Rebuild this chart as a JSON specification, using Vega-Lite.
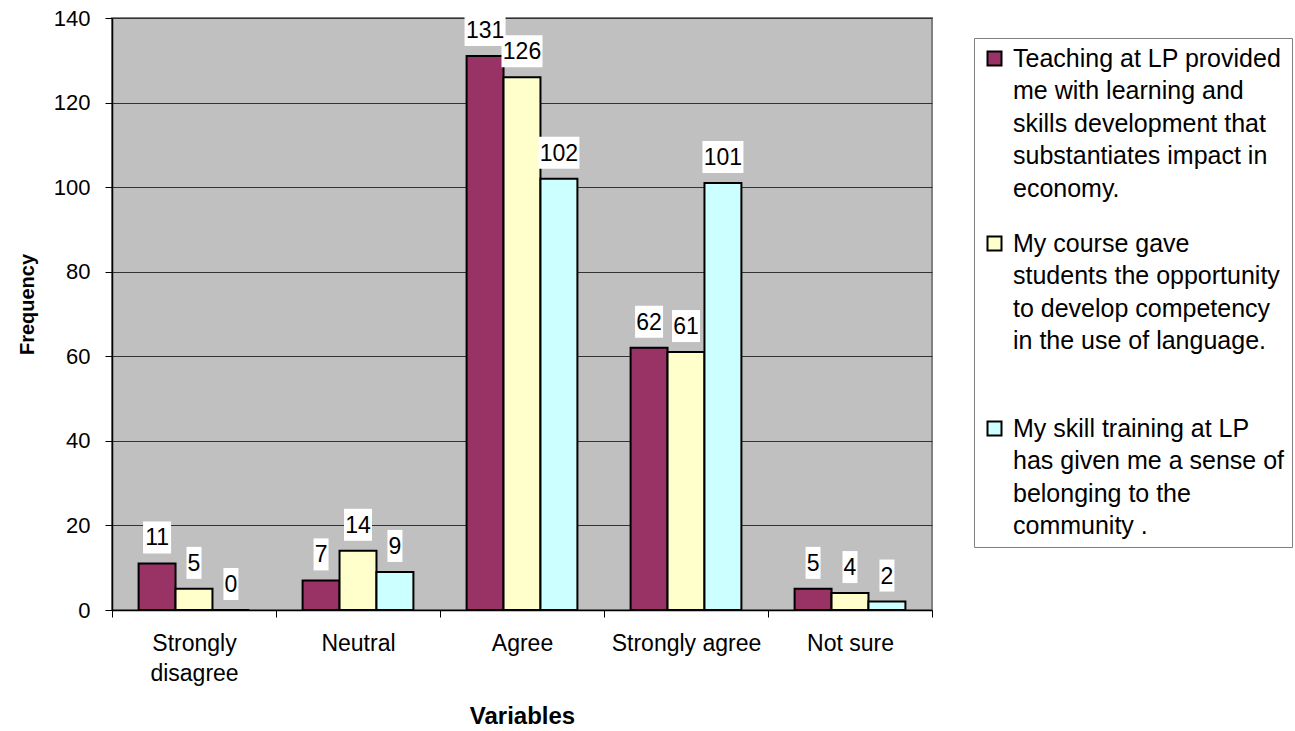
{
  "$schema": "https://vega.github.io/schema/vega-lite/v6.json",
  "width": 820,
  "height": 592,
  "autosize": {"type": "none"},
  "padding": {"left": 112, "top": 18, "right": 363, "bottom": 121},
  "background": "white",
  "config": {
    "font": "Liberation Sans",
    "view": {"fill": "#C0C0C0", "stroke": "#808080", "strokeWidth": 2},
    "style": {"guide-label": {"lineHeight": 32.5}}
  },
  "data": {
    "values": [
      {"response": "Strongly disagree", "statement": "Teaching at LP provided me with learning and skills development that substantiates impact in economy.", "frequency": 11},
      {"response": "Strongly disagree", "statement": "My course gave students the opportunity to develop competency in the use of language.", "frequency": 5},
      {"response": "Strongly disagree", "statement": "My skill training at LP has given me a sense of belonging to the community .", "frequency": 0},
      {"response": "Neutral", "statement": "Teaching at LP provided me with learning and skills development that substantiates impact in economy.", "frequency": 7},
      {"response": "Neutral", "statement": "My course gave students the opportunity to develop competency in the use of language.", "frequency": 14},
      {"response": "Neutral", "statement": "My skill training at LP has given me a sense of belonging to the community .", "frequency": 9},
      {"response": "Agree", "statement": "Teaching at LP provided me with learning and skills development that substantiates impact in economy.", "frequency": 131},
      {"response": "Agree", "statement": "My course gave students the opportunity to develop competency in the use of language.", "frequency": 126},
      {"response": "Agree", "statement": "My skill training at LP has given me a sense of belonging to the community .", "frequency": 102},
      {"response": "Strongly agree", "statement": "Teaching at LP provided me with learning and skills development that substantiates impact in economy.", "frequency": 62},
      {"response": "Strongly agree", "statement": "My course gave students the opportunity to develop competency in the use of language.", "frequency": 61},
      {"response": "Strongly agree", "statement": "My skill training at LP has given me a sense of belonging to the community .", "frequency": 101},
      {"response": "Not sure", "statement": "Teaching at LP provided me with learning and skills development that substantiates impact in economy.", "frequency": 5},
      {"response": "Not sure", "statement": "My course gave students the opportunity to develop competency in the use of language.", "frequency": 4},
      {"response": "Not sure", "statement": "My skill training at LP has given me a sense of belonging to the community .", "frequency": 2}
    ]
  },
  "transform": [
    {"calculate": "length(toString(datum.frequency))", "as": "digits"}
  ],
  "encoding": {
    "x": {
      "field": "response",
      "type": "nominal",
      "sort": ["Strongly disagree", "Neutral", "Agree", "Strongly agree", "Not sure"],
      "scale": {"paddingInner": 0, "paddingOuter": 0},
      "axis": {
        "title": "Variables",
        "titleFont": "Liberation Sans",
        "titleFontSize": 24,
        "titleFontWeight": "bold",
        "titleColor": "black",
        "titleBaseline": "alphabetic",
        "titleX": 410,
        "titleY": 113,
        "labelAngle": 0,
        "labelFontSize": 23,
        "labelColor": "black",
        "labelPadding": 15,
        "labelLineHeight": 30,
        "labelExpr": "datum.label == 'Strongly disagree' ? ['Strongly', 'disagree'] : datum.label",
        "tickBand": "extent",
        "tickSize": 7,
        "tickColor": "black",
        "domainColor": "black",
        "domainWidth": 1.5
      }
    },
    "y": {
      "field": "frequency",
      "type": "quantitative",
      "scale": {"domain": [0, 140], "nice": false},
      "axis": {
        "title": "Frequency",
        "titleFont": "Liberation Sans",
        "titleFontSize": 20,
        "titleFontWeight": "bold",
        "titleColor": "black",
        "titleAngle": -90,
        "titleBaseline": "alphabetic",
        "titleAlign": "center",
        "titleX": -79,
        "titleY": 286,
        "values": [0, 20, 40, 60, 80, 100, 120, 140],
        "labelFontSize": 22,
        "labelColor": "black",
        "labelPadding": 15,
        "tickSize": 7,
        "tickColor": "black",
        "domainColor": "black",
        "domainWidth": 1.5,
        "grid": true,
        "gridColor": "#333333",
        "gridWidth": 1
      }
    },
    "xOffset": {
      "field": "statement",
      "type": "nominal",
      "sort": [
        "Teaching at LP provided me with learning and skills development that substantiates impact in economy.",
        "My course gave students the opportunity to develop competency in the use of language.",
        "My skill training at LP has given me a sense of belonging to the community ."
      ],
      "scale": {"paddingInner": 0, "paddingOuter": 0.72}
    }
  },
  "layer": [
    {
      "mark": {"type": "bar", "stroke": "black", "strokeWidth": 2},
      "encoding": {
        "color": {
          "field": "statement",
          "type": "nominal",
          "sort": [
            "Teaching at LP provided me with learning and skills development that substantiates impact in economy.",
            "My course gave students the opportunity to develop competency in the use of language.",
            "My skill training at LP has given me a sense of belonging to the community ."
          ],
          "scale": {
            "domain": [
              "Teaching at LP provided me with learning and skills development that substantiates impact in economy.",
              "My course gave students the opportunity to develop competency in the use of language.",
              "My skill training at LP has given me a sense of belonging to the community ."
            ],
            "range": ["#993366", "#FFFFCC", "#CCFFFF"]
          },
          "legend": {
            "title": null,
            "orient": "none",
            "legendX": 862,
            "legendY": 20,
            "padding": 8,
            "fillColor": "white",
            "strokeColor": "#808080",
            "symbolType": "square",
            "symbolSize": 196,
            "symbolStrokeColor": "black",
            "symbolStrokeWidth": 2,
            "symbolOpacity": 1,
            "labelFontSize": 25,
            "labelColor": "black",
            "labelLimit": 400,
            "labelOffset": 6,
            "rowPadding": 29,
            "labelExpr": "datum.label == 'Teaching at LP provided me with learning and skills development that substantiates impact in economy.' ? ['Teaching at LP provided', 'me with learning and', 'skills development that', 'substantiates impact in', 'economy.'] : datum.label == 'My course gave students the opportunity to develop competency in the use of language.' ? ['My course gave', 'students the opportunity', 'to develop competency', 'in the use of language.', ''] : ['My skill training at LP', 'has given me a sense of', 'belonging to the', 'community .']"
          }
        }
      }
    },
    {
      "mark": {"type": "bar", "color": "white", "yOffset": -42, "y2Offset": -10},
      "encoding": {
        "y2": {"field": "frequency"},
        "size": {
          "field": "digits",
          "type": "quantitative",
          "scale": {"type": "linear", "domain": [1, 3], "range": [15, 41]},
          "legend": null
        }
      }
    },
    {
      "mark": {"type": "text", "baseline": "alphabetic", "dy": -18, "fontSize": 23, "color": "black"},
      "encoding": {
        "text": {"field": "frequency", "type": "quantitative"}
      }
    }
  ]
}
